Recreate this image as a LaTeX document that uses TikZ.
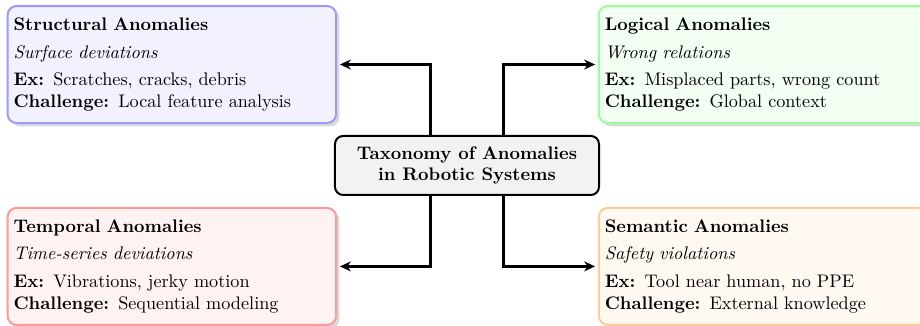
\documentclass[tikz,border=0pt]{standalone}
\usepackage{xcolor}
\usepackage{tikz}
\usetikzlibrary{positioning, shapes.geometric, arrows.meta, shadows}

\begin{document}
\begin{tikzpicture}[arrow/.style={line width=1.5pt, -{Stealth[length=6pt, width=5.5pt]}, shorten >=1.5pt}, anomaly node/.style={rectangle, rounded corners=5pt, line width=1.1pt, text width=174pt, inner xsep=3.3pt, minimum height=2.26cm, align=left, drop shadow={shadow xshift=1.8pt, shadow yshift=-1.8pt, opacity=0.3}}, main node/.style={rectangle, draw, rounded corners=4.5pt, line width=1.1pt, fill=gray!10, minimum width=5.1cm, minimum height=1.14cm, align=center, font=\bfseries}]
		
		\useasboundingbox (-9.02,-3.10) rectangle (8.75,3.196);
		
		% Nodes
		\node[main node] (taxonomy) at (0,0) {Taxonomy of Anomalies\\in Robotic Systems};
		\node[anomaly node, draw=blue!40, fill=blue!5] (structural) at (-5.7,1.95) {\textbf{Structural Anomalies}\\[3pt]\textit{Surface deviations}\\[3pt]\textbf{Ex:} Scratches, cracks, debris\\\textbf{Challenge:} Local feature analysis};
		\node[anomaly node, draw=green!40, fill=green!5] (logical) at (5.72,1.95) {\textbf{Logical Anomalies}\\[3pt]\textit{Wrong relations}\\[3pt]\textbf{Ex:} Misplaced parts, wrong count\\\textbf{Challenge:} Global context};
		\node[anomaly node, draw=red!40, fill=red!5] (temporal) at (-5.7,-1.95) {\textbf{Temporal Anomalies}\\[3pt]\textit{Time-series deviations}\\[3pt]\textbf{Ex:} Vibrations, jerky motion\\\textbf{Challenge:} Sequential modeling};
		\node[anomaly node, draw=orange!40, fill=orange!5] (semantic) at (5.72,-1.95) {\textbf{Semantic Anomalies}\\[3pt]\textit{Safety violations}\\[3pt]\textbf{Ex:} Tool near human, no PPE\\\textbf{Challenge:} External knowledge};
		
		% Edges (connections)
		\draw[arrow] ([xshift=-0.7cm]taxonomy.north) |- (structural.east);
		\draw[arrow] ([xshift=0.7cm]taxonomy.north) |- (logical.west);
		\draw[arrow] ([xshift=-0.7cm]taxonomy.south) |- (temporal.east);
		\draw[arrow] ([xshift=0.7cm]taxonomy.south) |- (semantic.west);
	\end{tikzpicture}
\end{document}
